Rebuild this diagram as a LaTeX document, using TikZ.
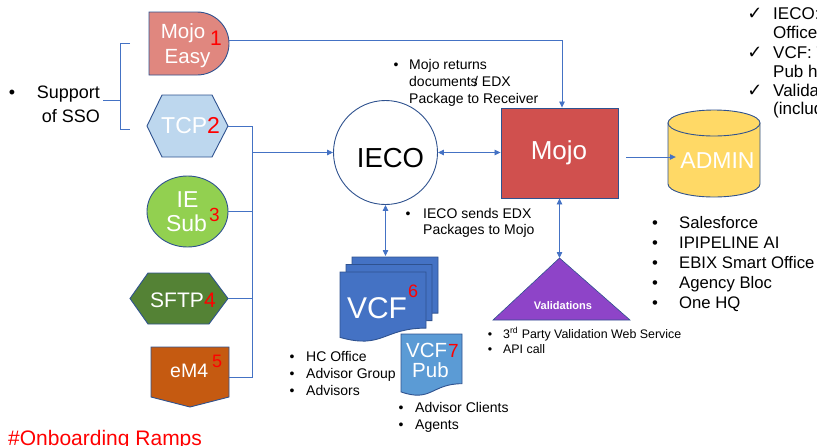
\documentclass[tikz,border=0pt]{standalone}
\usepackage{fontspec}
\setmainfont{Liberation Sans}
\newfontfamily\dejavu{DejaVu Sans}
\usetikzlibrary{arrows.meta,shapes.geometric}
\definecolor{lineblue}{HTML}{4472C4}
\definecolor{edgeblue}{HTML}{2F528F}
\definecolor{mojoeasyfill}{HTML}{E0877F}
\definecolor{mojofill}{HTML}{D0504E}
\definecolor{tcpfill}{HTML}{BDD7EE}
\definecolor{iefill}{HTML}{92D050}
\definecolor{sftpfill}{HTML}{548235}
\definecolor{emfill}{HTML}{C55A11}
\definecolor{admfill}{HTML}{FFD966}
\definecolor{vcffill}{HTML}{4472C4}
\definecolor{vcfpubfill}{HTML}{5B9BD5}
\definecolor{valfill}{HTML}{8E44C8}
\definecolor{numred}{HTML}{FF0000}
\newcommand\fsz[1]{\fontsize{#1}{#1}\selectfont}
\begin{document}
\begin{tikzpicture}[x=1pt,y=-1pt,
  conn/.style={draw=lineblue, line width=0.8pt},
  arr/.style={-{Triangle[length=6pt,width=5.5pt]}},
  biarr/.style={{Triangle[length=6pt,width=5.5pt]}-{Triangle[length=6pt,width=5.5pt]}},
  shp/.style={draw=edgeblue, line width=0.9pt},
  holder/.style={inner sep=0pt, draw=none},
  wt/.style={inner sep=0pt, text=white, anchor=base},
  wtl/.style={inner sep=0pt, text=white, anchor=base west},
  num/.style={inner sep=0pt, text=numred, anchor=base west},
  bl/.style={inner sep=0pt, anchor=base},
  tl/.style={inner sep=0pt, anchor=base west},
  tr/.style={inner sep=0pt, anchor=base east}]
\useasboundingbox (0,0) rectangle (817,445);
\clip (0,0) rectangle (817,445);

% ---------- Mojo Easy (delay shape)
\path[shp, fill=mojoeasyfill] (149,12) -- (197,12)
  arc[start angle=90, end angle=-90, x radius=32pt, y radius=31.5pt] -- (149,75) -- cycle;
\node[holder, minimum width=80pt, minimum height=63pt] (mojoeasy) at (189,43.5) {};
\node[wt, font=\fsz{20.5}] (mojoeasyA) at (183,38) {Mojo};
\node[wt, font=\fsz{20.5}] (mojoeasyB) at (187.5,63) {Easy};
\node[num, font=\fsz{21}] (n1) at (210,45) {1};

% ---------- TCP (hexagon)
\path[shp, fill=tcpfill] (147,126) -- (162,95) -- (212,95) -- (228,126) -- (212,157) -- (162,157) -- cycle;
\node[holder, minimum width=81pt, minimum height=62pt] (tcp) at (187.5,126) {};
\node[wtl, font=\fsz{23}] (tcpT) at (161,133) {TCP};
\node[num, font=\fsz{23}] (n2) at (207,133) {2};

% ---------- IE Sub (ellipse)
\node[shp, ellipse, fill=iefill, minimum width=81pt, minimum height=71pt, inner sep=0pt] (iesub) at (187.5,211.5) {};
\node[wt, font=\fsz{23}] (iesubA) at (187.5,207) {IE};
\node[wt, font=\fsz{23}] (iesubB) at (186.5,231) {Sub};
\node[num, font=\fsz{19}] (n3) at (209,221) {3};

% ---------- SFTP (hexagon)
\path[shp, fill=sftpfill] (130,298.5) -- (148,273) -- (209,273) -- (228,298.5) -- (209,324) -- (148,324) -- cycle;
\node[holder, minimum width=98pt, minimum height=51pt] (sftp) at (179,298.5) {};
\node[wtl, font=\fsz{21}] (sftpT) at (150,307) {SFTP};
\node[num, font=\fsz{21}] (n4) at (204,307) {4};

% ---------- eM4 (off-page connector)
\path[shp, fill=emfill] (151,347) -- (229,347) -- (229,397) -- (190,407) -- (151,397) -- cycle;
\node[holder, minimum width=78pt, minimum height=60pt] (em4) at (190,377) {};
\node[wtl, font=\fsz{19.5}] (em4T) at (170,377) {eM4};
\node[num, font=\fsz{18}] (n5) at (212,367) {5};

% ---------- Support of SSO
\node[bl, font=\fsz{18}] (ssob) at (12,98) {•};
\node[tr, font=\fsz{18}] (sso1) at (100,98) {Support};
\node[tr, font=\fsz{18}] (sso2) at (100,122) {of SSO};
\coordinate (bracketmid) at (120,100);
\draw[conn] (130,43) -- (120,43) -- (120,129) -- (130,129);
\draw[conn] ([xshift=3pt]sso1.east |- bracketmid) -- (bracketmid);

% ---------- IECO
\node[shp, circle, fill=white, minimum size=104pt, inner sep=0pt] (ieco) at (385.5,152.5) {};
\node[bl, font=\fsz{27.5}] (iecoT) at (390.5,167) {IECO};

% ---------- Mojo
\node[shp, fill=mojofill, minimum width=117pt, minimum height=90pt, inner sep=0pt] (mojo) at (559.5,153) {};
\node[wt, font=\fsz{26}] (mojoT) at (559,159) {Mojo};

% ---------- ADMIN (cylinder)
\path[shp, fill=admfill] (668,123) -- (668,184)
  arc[start angle=180, end angle=360, x radius=46pt, y radius=13pt] -- (760,123) -- cycle;
\path[shp, fill=admfill] (714,123) ellipse [x radius=46pt, y radius=13pt];
\node[holder, minimum width=92pt, minimum height=87pt] (admin) at (714,153.5) {};
\node[wt, font=\fsz{23}] (adminT) at (717.5,168) {ADMIN};

% ---------- VCF (multi-document)
\path[shp, fill=vcffill] (352,257) -- (438,257) -- (438,313.1)
  .. controls (395,313.1) and (395,334.5) .. (352,322.4) -- cycle;
\path[shp, fill=vcffill] (346,264.5) -- (432,264.5) -- (432,320.6)
  .. controls (389,320.6) and (389,342) .. (346,329.9) -- cycle;
\path[shp, fill=vcffill] (340,272) -- (426,272) -- (426,328.1)
  .. controls (383,328.1) and (383,349.5) .. (340,337.4) -- cycle;
\coordinate (vcftop) at (384,256);
\node[wt, font=\fsz{30}] (vcfT) at (377,318) {VCF};
\node[num, font=\fsz{18}] (n6) at (408,297) {6};

% ---------- VCF Pub (document)
\path[shp, fill=vcfpubfill] (401,334) -- (462,334) -- (462,383.7)
  .. controls (431.5,383.7) and (431.5,402.6) .. (401,391.9) -- cycle;
\node[wtl, font=\fsz{20.5}] (vcfpubA) at (406,357) {VCF};
\node[wtl, font=\fsz{20.5}] (vcfpubB) at (412,377) {Pub};
\node[num, font=\fsz{19}] (n7) at (448,357) {7};

% ---------- Validations (triangle)
\coordinate (valtop) at (559.5,258);
\path[draw=edgeblue, line width=0.6pt, fill=valfill] (valtop) -- (630,320) -- (493,320) -- cycle;
\node[wt, font=\fsz{11}\bfseries] (valT) at (563,309) {Validations};

% ---------- connectors
\coordinate (busT) at (252,126);
\coordinate (busB) at (252,377);
\draw[conn] (tcp.east) -- (busT) -- (busB) -- (em4.east);
\draw[conn] (iesub.east) -- (iesub.east -| busT);
\draw[conn] (sftp.east) -- (sftp.east -| busT);
\draw[conn, arr] (ieco.west -| busT) -- (ieco.west);
\draw[conn, arr] ([yshift=3.5pt]mojoeasy.east) -| ([xshift=2.5pt]mojo.north);
\draw[conn, biarr] (ieco.east) -- (ieco.east -| mojo.west);
\draw[conn, arr] ([xshift=8pt,yshift=-4pt]mojo.east) -- ([xshift=8pt,yshift=-4pt]mojo.east -| admin.west);
\draw[conn, biarr] (ieco.south) -- (ieco.south |- vcftop);
\draw[conn, biarr] (mojo.south) -- (valtop);

% ---------- notes
\node[bl, font=\fsz{14}] (mrb) at (396,69) {•};
\node[tl, font=\fsz{14}] (mr1) at (409,69) {Mojo returns};
\node[tl, font=\fsz{14}] (mr2) at (409,86) {documents\kern-3.5pt/ EDX};
\node[tl, font=\fsz{14}] (mr3) at (409,103) {Package to Receiver};

\node[bl, font=\fsz{14}] (isb) at (408,218) {•};
\node[tl, font=\fsz{14}] (is1) at (423,218) {IECO sends EDX};
\node[tl, font=\fsz{14}] (is2) at (423,234.5) {Packages to Mojo};

\node[bl, font=\fsz{16.7}] (sfb1) at (655,228) {•};
\node[bl, font=\fsz{16.7}] (sfb2) at (655,248) {•};
\node[bl, font=\fsz{16.7}] (sfb3) at (655,268) {•};
\node[bl, font=\fsz{16.7}] (sfb4) at (655,288) {•};
\node[bl, font=\fsz{16.7}] (sfb5) at (655,308) {•};
\node[tl, font=\fsz{16.7}] (sf1) at (679,228) {Salesforce};
\node[tl, font=\fsz{16.7}] (sf2) at (679,248) {IPIPELINE AI};
\node[tl, font=\fsz{16.7}] (sf3) at (679,268) {EBIX Smart Office};
\node[tl, font=\fsz{16.7}] (sf4) at (679,288) {Agency Bloc};
\node[tl, font=\fsz{16.7}] (sf5) at (679,308) {One HQ};

\node[bl, font=\fsz{12.4}] (vlb1) at (490,338) {•};
\node[bl, font=\fsz{12.4}] (vlb2) at (490,353) {•};
\node[tl, font=\fsz{12.4}] (vl1) at (503,338) {3\textsuperscript{rd} Party Validation Web Service};
\node[tl, font=\fsz{12.4}] (vl2) at (503,353) {API call};

\node[bl, font=\fsz{14}] (vcb1) at (292,361) {•};
\node[bl, font=\fsz{14}] (vcb2) at (292,378) {•};
\node[bl, font=\fsz{14}] (vcb3) at (292,395) {•};
\node[tl, font=\fsz{14}] (vc1) at (306,361) {HC Office};
\node[tl, font=\fsz{14}] (vc2) at (306,378) {Advisor Group};
\node[tl, font=\fsz{14}] (vc3) at (306,395) {Advisors};

\node[bl, font=\fsz{14}] (vpb1) at (401,412) {•};
\node[bl, font=\fsz{14}] (vpb2) at (401,429) {•};
\node[tl, font=\fsz{14}] (vp1) at (415,412) {Advisor Clients};
\node[tl, font=\fsz{14}] (vp2) at (415,429) {Agents};

% ---------- check list (cut at the right edge, as in the reference)
\node[bl, font=\dejavu\fsz{18}] (ck1) at (755,19) {✓};
\node[bl, font=\dejavu\fsz{18}] (ck2) at (755,58) {✓};
\node[bl, font=\dejavu\fsz{18}] (ck3) at (755,96) {✓};
\node[tl, font=\fsz{17}] (cl1) at (773,19) {IECO: HC};
\node[tl, font=\fsz{17}] (cl2) at (773,38.5) {Office};
\node[tl, font=\fsz{17}] (cl3) at (773,58) {VCF: T};
\node[tl, font=\fsz{17}] (cl4) at (773,77) {Pub h};
\node[tl, font=\fsz{17}] (cl5) at (773,96) {Validations};
\node[tl, font=\fsz{17}] (cl6) at (773,114) {(includes};

% ---------- title
\node[tl, text=numred, font=\fsz{21}] (title) at (8,445) {\#Onboarding Ramps};
\end{tikzpicture}
\end{document}
